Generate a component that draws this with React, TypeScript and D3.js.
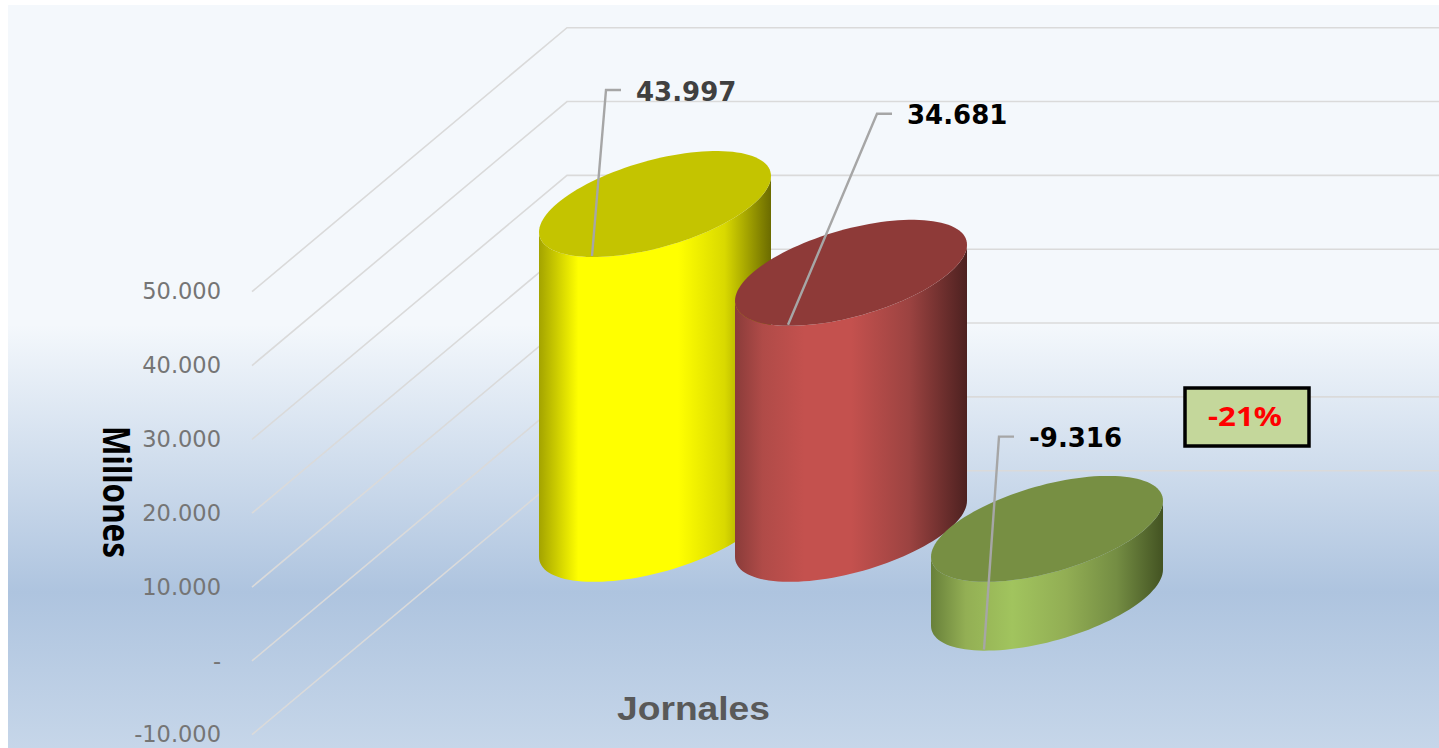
import React, { useEffect, useRef } from 'react';
import * as d3 from 'd3';

// Valores
const seriesIds = ['serie1', 'serie2', 'variacion'];
const seriesValues = [43997, 34681, -9316];
const tickValues = [-10000, 0, 10000, 20000, 30000, 40000, 50000];
const sideStops = [
  [[0, '#a3a300'], [0.17, '#ffff00'], [0.6, '#ffff00'], [0.8, '#d9d900'], [1, '#6b6b00']],
  [[0, '#8a3c3a'], [0.12, '#b04b48'], [0.3, '#c4514e'], [0.5, '#c4514e'], [0.75, '#9c4341'], [1, '#4d2120']],
  [[0, '#68803a'], [0.15, '#93af54'], [0.35, '#a1c45e'], [0.58, '#92ae54'], [0.8, '#748d43'], [1, '#435322']],
];
const topColors = ['#c4c400', '#8e3a38', '#778f43'];
const labelColors = ['#404040', '#000000', '#000000'];

const W = 1439;
const H = 748;
const fmtNum = d3.formatLocale({ decimal: ',', thousands: '.', grouping: [3], currency: ['', ''], minus: '-' }).format(',.0f');

const App = () => {
  const svgRef = useRef<SVGSVGElement | null>(null);

  useEffect(() => {
    const svg = d3.select(svgRef.current);
    svg.selectAll('*').remove();

    const y = d3.scaleLinear().domain([-10000, 50000]).range([734.7, 291.7]);
    const x = d3.scalePoint<string>().domain(seriesIds).range([655, 1047]);
    const frontX = 252;
    const depthX = 315;
    const depthY = 264;
    // cylinders stand in the middle of the floor depth
    const cy = (v: number) => y(v) - depthY / 2;
    const rx = 116;
    const skew = 28;
    const ry = 45;

    const defs = svg.append('defs');
    const bg = defs.append('linearGradient').attr('id', 'bg').attr('x1', 0).attr('x2', 0).attr('y1', 0).attr('y2', 1);
    [[0, '#f4f8fc'], [0.43, '#f4f8fc'], [0.79, '#aec4df'], [1, '#c6d6e9']].forEach(s => {
      bg.append('stop').attr('offset', s[0]).attr('stop-color', s[1]);
    });
    sideStops.forEach((stops, i) => {
      const g = defs.append('linearGradient').attr('id', `side${i}`);
      stops.forEach(s => g.append('stop').attr('offset', s[0]).attr('stop-color', s[1]));
    });

    svg.append('rect').attr('x', 8).attr('y', 5).attr('width', W - 8).attr('height', H - 5).attr('fill', 'url(#bg)');

    // Gridlines: floor part and back wall part
    const grid = svg.append('g').attr('fill', 'none').attr('stroke', '#dadada').attr('stroke-width', 1.6);
    tickValues.forEach(t => {
      grid.append('path').attr('d', d3.line()([
        [frontX, y(t)],
        [frontX + depthX, y(t) - depthY],
        [W, y(t) - depthY],
      ]));
    });

    // Value axis
    const axis = svg.append('g')
      .attr('transform', `translate(${frontX},0)`)
      .call(d3.axisLeft(y).tickValues(tickValues).tickSize(0).tickPadding(31)
        .tickFormat((d: any) => (d === 0 ? '-' : fmtNum(d))));
    axis.select('.domain').remove();
    axis.selectAll('text')
      .style('font-family', '"DejaVu Sans", sans-serif')
      .style('font-size', '22.5px')
      .style('fill', '#757575');

    // Ellipse points, angle 0 is the right end, PI the left end
    const ang = d3.range(0, 61).map(i => (i / 60) * Math.PI);
    const lower = (cx: number, c: number) => ang.map(t => [
      cx + rx * Math.cos(t), c - skew * Math.cos(t) + ry * Math.sin(t),
    ] as [number, number]);
    const upper = (cx: number, c: number) => ang.map(t => [
      cx - rx * Math.cos(t), c + skew * Math.cos(t) - ry * Math.sin(t),
    ] as [number, number]);
    const line = d3.line();

    const cyl = svg.append('g');
    seriesIds.forEach((id, i) => {
      const v = seriesValues[i];
      const cx = x(id) as number;
      const top = cy(Math.max(v, 0));
      const base = cy(Math.min(v, 0));
      cyl.append('path')
        .attr('d', line([...lower(cx, top), ...lower(cx, base).reverse()]) + 'Z')
        .attr('fill', `url(#side${i})`);
      cyl.append('path')
        .attr('d', line([...lower(cx, top), ...upper(cx, top)]) + 'Z')
        .attr('fill', topColors[i]);
    });

    // Leader lines and data labels
    const leaderOffsets = [[14, -166], [89, -211], [15, -213]];
    const labels = svg.append('g');
    seriesIds.forEach((id, i) => {
      const v = seriesValues[i];
      const ax = (x(id) as number) - 63;
      const ay = cy(v) + 52;
      const bx = ax + leaderOffsets[i][0];
      const by = ay + leaderOffsets[i][1];
      labels.append('path')
        .attr('d', line([[ax, ay], [bx, by], [bx + 15, by]]))
        .attr('fill', 'none').attr('stroke', '#a6a6a6').attr('stroke-width', 2.4);
      labels.append('text')
        .attr('x', bx + 30)
        .attr('y', by + 10.5)
        .attr('font-family', '"DejaVu Sans", sans-serif')
        .attr('font-weight', 'bold')
        .attr('font-size', 26)
        .attr('fill', labelColors[i])
        .text(fmtNum(v));
    });

    // Axis titles
    svg.append('text')
      .attr('transform', 'translate(103,426) rotate(90)')
      .attr('font-family', '"Noto Sans", sans-serif')
      .attr('font-weight', 'bold')
      .attr('font-size', 38)
      .attr('textLength', 132)
      .attr('lengthAdjust', 'spacingAndGlyphs')
      .attr('fill', '#000')
      .text('Millones');
    svg.append('text')
      .attr('x', 617).attr('y', 720)
      .attr('font-family', '"Liberation Sans", sans-serif')
      .attr('font-weight', 'bold')
      .attr('font-size', 34)
      .attr('textLength', 153)
      .attr('lengthAdjust', 'spacingAndGlyphs')
      .attr('fill', '#595959')
      .text('Jornales');

    // Variation box
    svg.append('rect')
      .attr('x', 1185).attr('y', 388).attr('width', 124).attr('height', 58)
      .attr('fill', '#c4d79b').attr('stroke', '#000').attr('stroke-width', 3.5);
    svg.append('text')
      .attr('x', 1208).attr('y', 426)
      .attr('font-family', '"Noto Sans", sans-serif')
      .attr('font-weight', 'bold')
      .attr('font-size', 27)
      .attr('textLength', 74)
      .attr('lengthAdjust', 'spacingAndGlyphs')
      .attr('fill', '#ff0000')
      .text('-21%');
  }, []);

  return (
    <svg
      ref={svgRef}
      width={W}
      height={H}
      style={{ position: 'absolute', left: 0, top: 0, display: 'block' }}
    />
  );
};

export default App;
